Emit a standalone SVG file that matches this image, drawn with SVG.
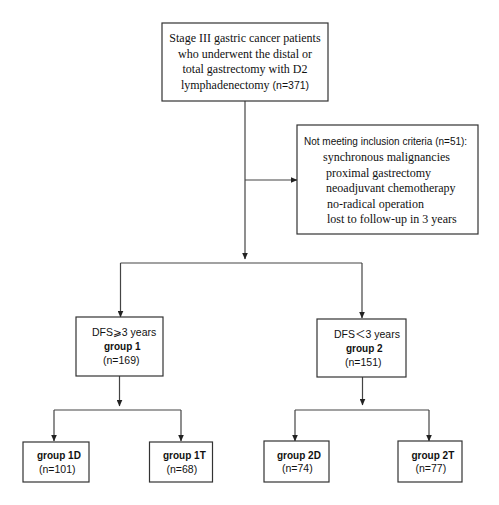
<svg xmlns="http://www.w3.org/2000/svg" width="499" height="505" viewBox="0 0 499 505">
<style>
.box{fill:#fff;stroke:#333;stroke-width:1.2}
.ln{fill:none;stroke:#444;stroke-width:1.2}
.tm{font-family:"Liberation Serif","Times New Roman",serif;font-size:12px;fill:#111}
.sn{font-family:"Liberation Sans",Arial,"DejaVu Sans","Noto Sans CJK SC",sans-serif;font-size:10.5px;fill:#111}
.sb{font-family:"Liberation Sans",Arial,sans-serif;font-size:10px;font-weight:bold;fill:#111}
</style>
<defs>
<marker id="ah" markerWidth="7" markerHeight="6" refX="6.5" refY="3" orient="auto" markerUnits="userSpaceOnUse">
<path d="M0,0 L7,3 L0,6 Z" fill="#222"/>
</marker>
</defs>
<rect width="499" height="505" fill="#fff"/>
<g id="connectors">
<path class="ln" d="M245,101 V259" marker-end="url(#ah)"/>
<path class="ln" d="M245,180 H297" marker-end="url(#ah)"/>
<path class="ln" d="M120.5,263 H362"/>
<path class="ln" d="M120.5,263 V317" marker-end="url(#ah)"/>
<path class="ln" d="M362,263 V318" marker-end="url(#ah)"/>
<path class="ln" d="M119.5,376 V406" marker-end="url(#ah)"/>
<path class="ln" d="M54,410 H181"/>
<path class="ln" d="M54,410 V441" marker-end="url(#ah)"/>
<path class="ln" d="M181,410 V441" marker-end="url(#ah)"/>
<path class="ln" d="M362.5,377 V405" marker-end="url(#ah)"/>
<path class="ln" d="M295,410 H429"/>
<path class="ln" d="M295,410 V441" marker-end="url(#ah)"/>
<path class="ln" d="M429,410 V441" marker-end="url(#ah)"/>
</g>
<g id="node-top">
<rect class="box" x="162" y="23" width="166" height="78"/>
<text class="tm" x="245" y="42" text-anchor="middle">Stage III gastric cancer patients</text>
<text class="tm" x="245" y="57.7" text-anchor="middle">who underwent the distal or</text>
<text class="tm" x="245" y="73.3" text-anchor="middle">total gastrectomy with D2</text>
<text class="tm" x="245" y="89" text-anchor="middle">lymphadenectomy <tspan class="sn">(n=371)</tspan></text>
</g>
<g id="node-excluded">
<rect class="box" x="297" y="125" width="181" height="109"/>
<text class="sn" x="304" y="145" style="font-size:10px">Not meeting inclusion criteria (n=51):</text>
<text class="tm" x="323" y="161">synchronous malignancies</text>
<text class="tm" x="326" y="176.5">proximal gastrectomy</text>
<text class="tm" x="326" y="192">neoadjuvant chemotherapy</text>
<text class="tm" x="327" y="207.5">no-radical operation</text>
<text class="tm" x="327" y="223">lost to follow-up in 3 years</text>
</g>
<g id="node-group1">
<rect class="box" x="76" y="317" width="87" height="59"/>
<text class="sn" x="92" y="336">DFS⩾3 years</text>
<text class="sb" x="104" y="350">group 1</text>
<text class="sn" x="103" y="364">(n=169)</text>
</g>
<g id="node-group2">
<rect class="box" x="317" y="319" width="89" height="58"/>
<text class="sn" x="334" y="337.5">DFS＜3 years</text>
<text class="sb" x="346" y="352">group 2</text>
<text class="sn" x="345" y="366">(n=151)</text>
</g>
<g id="node-group1D">
<rect class="box" x="23" y="442" width="66" height="40"/>
<text class="sb" x="37" y="459">group 1D</text>
<text class="sn" x="39" y="473">(n=101)</text>
</g>
<g id="node-group1T">
<rect class="box" x="149.5" y="442" width="63" height="40"/>
<text class="sb" x="163" y="459">group 1T</text>
<text class="sn" x="166.5" y="473">(n=68)</text>
</g>
<g id="node-group2D">
<rect class="box" x="264" y="441" width="65" height="41"/>
<text class="sb" x="277" y="458.5">group 2D</text>
<text class="sn" x="282" y="472">(n=74)</text>
</g>
<g id="node-group2T">
<rect class="box" x="398" y="441" width="64" height="41"/>
<text class="sb" x="411.5" y="458.5">group 2T</text>
<text class="sn" x="415.5" y="472">(n=77)</text>
</g>
</svg>
